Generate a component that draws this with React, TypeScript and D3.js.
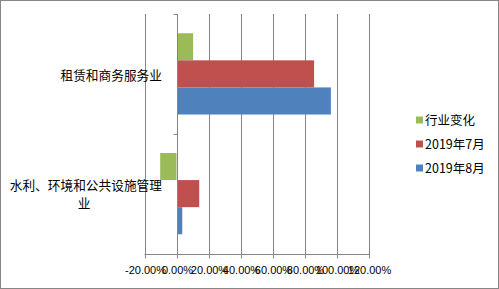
import React from "react";
import * as d3 from "d3";

const categories = ["租赁和商务服务业", "水利、环境和公共设施管理业"];
const seriesNames = ["行业变化", "2019年7月", "2019年8月"];
const seriesColors = ["#9BBB59", "#C0504D", "#4F81BD"];
const industryChange = [10.4, -10.2];
const july = [86.0, 14.2];
const august = [96.5, 3.6];
const xTicks = [-20, 0, 20, 40, 60, 80, 100, 120];

const W = 499;
const H = 289;
const font = "'Noto Sans CJK SC', 'DejaVu Sans', sans-serif";

export default function App() {
  const seriesValues = [industryChange, july, august];
  const x = d3.scaleLinear().domain([-20, 120]).range([144.5, 368.5]);
  const y = d3.scaleBand<string>().domain(categories).range([14, 253.5]);
  const inner = d3
    .scaleBand<number>()
    .domain(seriesNames.map((_, i) => i))
    .range([0, y.bandwidth()])
    .paddingOuter(0.71)
    .paddingInner(0);
  const axisY = 254.5;
  const zeroX = Math.round(x(0)) + 0.5;

  return (
    <div style={{ position: "fixed", left: 0, top: 0 }}>
      <svg width={W} height={H} style={{ display: "block", fontFamily: font }}>
        <rect x={0} y={0} width={W} height={H} fill="#fff" />
        <rect x={0.5} y={0.5} width={W - 1} height={H - 1} fill="none" stroke="#868686" />
        {xTicks.map((t) => {
          const xx = Math.round(x(t)) + 0.5;
          return (
            <g key={t}>
              <line x1={xx} x2={xx} y1={14} y2={axisY + 4} stroke="#868686" strokeWidth={1} />
              <text x={xx} y={274} textAnchor="middle" fontSize={11} fill="#000" fontFamily="'Liberation Sans', Arial, sans-serif">
                {t.toFixed(2) + "%"}
              </text>
            </g>
          );
        })}
        <line x1={x(-20)} x2={x(120) + 1} y1={axisY} y2={axisY} stroke="#868686" />
        {categories.map((c, ci) => (
          <g key={c}>
            {seriesValues.map((vals, si) => {
              const v = vals[ci];
              const x0 = x(Math.min(0, v));
              const x1 = x(Math.max(0, v));
              return (
                <rect
                  key={si}
                  x={x0 + (v >= 0 ? 1 : 0)}
                  y={(y(c) as number) + (inner(si) as number)}
                  width={Math.max(0, x1 - x0 - (v >= 0 ? 1 : 0))}
                  height={inner.bandwidth()}
                  fill={seriesColors[si]}
                />
              );
            })}
          </g>
        ))}
        <line x1={zeroX} x2={zeroX} y1={14} y2={axisY} stroke="#868686" />
        {[14, 133.5, 253.5].map((ty, i) => (
          <line key={i} x1={zeroX - 4} x2={zeroX} y1={Math.round(ty) + 0.5} y2={Math.round(ty) + 0.5} stroke="#868686" />
        ))}
        <text x={162} y={79.5} textAnchor="end" fontSize={12.7} fill="#000">
          租赁和商务服务业
        </text>
        <text x={162} y={189.5} textAnchor="end" fontSize={12.7} fill="#000">
          水利、环境和公共设施管理
        </text>
        <text x={84} y={207.5} textAnchor="middle" fontSize={12.7} fill="#000">
          业
        </text>
        {seriesNames.map((s, i) => {
          const ly = [120, 144, 168][i];
          return (
            <g key={s}>
              <rect x={416} y={ly - 3.5} width={7} height={7} fill={seriesColors[i]} />
              <text x={425} y={ly + 4.5} fontSize={12.5} fill="#000">
                {s}
              </text>
            </g>
          );
        })}
      </svg>
    </div>
  );
}
